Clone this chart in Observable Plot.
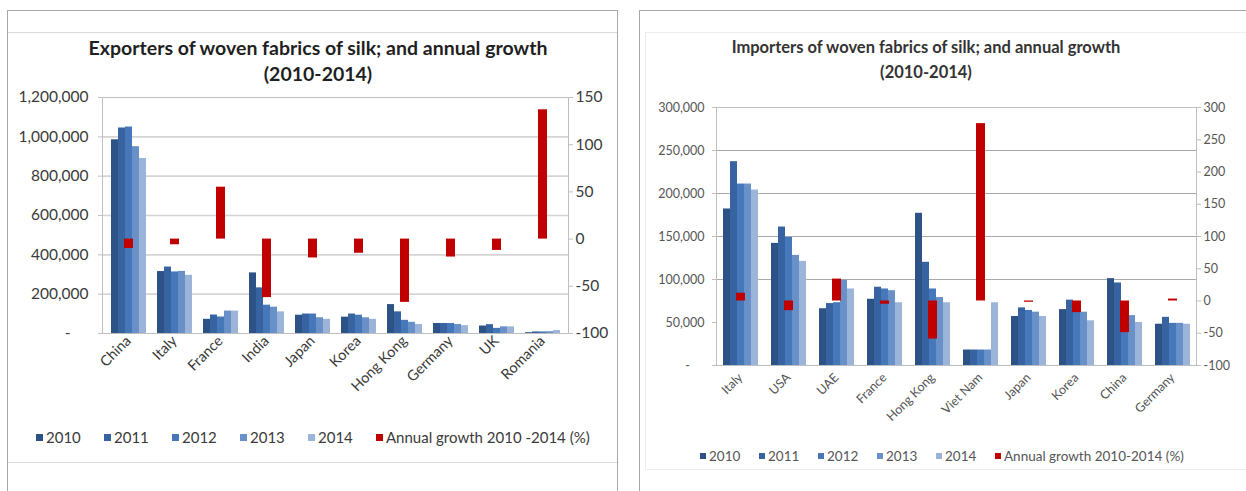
<!DOCTYPE html>
<html><head><meta charset="utf-8">
<script src="https://cdn.jsdelivr.net/npm/d3@7"></script>
<script src="https://cdn.jsdelivr.net/npm/@observablehq/plot@0.6"></script>
<style>
html,body{margin:0;padding:0;background:#fff;}
#root{position:relative;width:1246px;height:491px;overflow:hidden;font-family:Lato,"Liberation Sans",sans-serif;background:#fff;}
.box{position:absolute;box-sizing:border-box;}
.title{position:absolute;text-align:center;font-weight:bold;white-space:nowrap;transform:translate(-50%,-50%);}
.legend{position:absolute;display:flex;align-items:center;white-space:nowrap;transform:translateY(-50%);}
.legend .item{display:flex;align-items:center;}
.legend .sw{display:inline-block;margin-right:3px;}
.chart{position:absolute;}
.chart svg{position:absolute;left:0;top:0;background:transparent;}
</style></head><body><div id="root"></div>
<script>
// ---------- data ----------
const years = ["2010", "2011", "2012", "2013", "2014"];
const yearColors = ["#2c5286", "#3764a0", "#4677b8", "#6a90c8", "#9cb4da"];
const growthColor = "#c00000";

const expTitle = ["Exporters of woven fabrics of silk; and annual growth", "(2010-2014)"];
const expCountries = ["China", "Italy", "France", "India", "Japan", "Korea", "Hong Kong", "Germany", "UK", "Romania"];
const exp2010 = [985000, 315000, 72000, 308000, 93000, 83000, 147000, 51000, 38000, 4000];
const exp2011 = [1045000, 338000, 94000, 232000, 99000, 99000, 110000, 51000, 45000, 8000];
const exp2012 = [1050000, 313000, 84000, 144000, 99000, 93000, 67000, 51000, 26000, 8000];
const exp2013 = [950000, 316000, 114000, 134000, 80000, 80000, 57000, 46000, 34000, 9000];
const exp2014 = [890000, 296000, 114000, 110000, 72000, 72000, 46000, 40000, 34000, 15000];
const expGrowth = [-10, -6, 55, -62, -20, -15, -67, -19, -12, 137];
const expYTicks = [0, 200000, 400000, 600000, 800000, 1000000, 1200000];
const expGrowthTicks = [-100, -50, 0, 50, 100, 150];
const expGrowthLabel = "Annual growth 2010 -2014 (%)";

const impTitle = ["Importers of woven fabrics of silk; and annual growth", "(2010-2014)"];
const impCountries = ["Italy", "USA", "UAE", "France", "Hong Kong", "Viet Nam", "Japan", "Korea", "China", "Germany"];
const imp2010 = [182000, 142000, 66000, 77000, 177000, 18000, 57000, 65000, 101000, 48000];
const imp2011 = [237000, 161000, 72000, 91000, 120000, 18000, 67000, 76000, 96000, 56000];
const imp2012 = [211000, 149000, 73000, 89000, 89000, 18000, 64000, 72000, 72000, 49000];
const imp2013 = [211000, 128000, 99000, 87000, 79000, 18000, 62000, 62000, 58000, 49000];
const imp2014 = [204000, 121000, 89000, 73000, 73000, 73000, 57000, 52000, 50000, 48000];
const impGrowth = [12, -15, 34, -5, -59, 275, -2, -18, -49, 3];
const impYTicks = [0, 50000, 100000, 150000, 200000, 250000, 300000];
const impGridTicks = [100000, 150000, 200000, 250000];
const impGrowthTicks = [-100, -50, 0, 50, 100, 150, 200, 250, 300];
const impGrowthLabel = "Annual growth 2010-2014 (%)";

// ---------- helpers ----------
const root = document.getElementById("root");
function el(tag, cls, style, text) {
  const e = document.createElement(tag);
  if (cls) e.className = cls;
  Object.assign(e.style, style || {});
  if (text != null) e.textContent = text;
  return e;
}

function buildRows(countries, series) {
  const rows = [];
  countries.forEach((c, i) => series.forEach((s, j) => rows.push({country: c, year: years[j], value: s[i]})));
  return rows;
}

function chart(o) {
  const yMax = o.yTicks[o.yTicks.length - 1];
  const gMin = o.growthTicks[0], gMax = o.growthTicks[o.growthTicks.length - 1];
  const g2y = g => (g - gMin) / (gMax - gMin) * yMax;
  const y2g = v => Math.round(v / yMax * (gMax - gMin) + gMin);
  const common = {
    width: o.width, height: o.height,
    marginTop: o.mt, marginBottom: o.mb, marginLeft: o.ml, marginRight: o.mr,
    style: {fontFamily: "Lato, 'Liberation Sans', sans-serif", fontSize: o.tickFont + "px", color: o.textColor, background: "transparent", overflow: "visible"}
  };
  const base = Plot.plot({
    ...common,
    x: {type: "band", domain: o.countries, padding: 0},
    y: {domain: [0, yMax]},
    marks: [
      Plot.ruleY(o.gridTicks, {stroke: o.gridColor, strokeWidth: o.gridWidth}),
      Plot.frame({stroke: o.axisColor, strokeWidth: 1}),
      Plot.axisY({anchor: "left", ticks: o.yTicks, tickSize: 4, tickPadding: o.tickPadL, stroke: o.axisColor,
        tickFormat: v => v === 0 ? "-\u2007\u2007" : d3.format(",")(v), label: null, fill: o.textColor}),
      Plot.axisY({anchor: "right", ticks: o.growthTicks.map(g2y), tickSize: 4, tickPadding: 3, stroke: o.axisColor,
        tickFormat: v => String(y2g(v)), label: null, fill: o.textColor}),
      Plot.axisX({tickRotate: -45, tickSize: 0, tickPadding: o.xPad, label: null, fontSize: o.xFont, fill: o.textColor})
    ]
  });
  const rows = buildRows(o.countries, o.series);
  const grows = o.countries.map((c, i) => ({country: c, growth: o.growth[i]}));
  const bars = Plot.plot({
    ...common,
    fx: {domain: o.countries, padding: 0, axis: null, label: null},
    x: {domain: years, paddingInner: 0, paddingOuter: o.po, axis: null},
    y: {domain: [0, yMax], axis: null},
    color: {domain: years, range: yearColors},
    marks: [
      Plot.barY(rows, {fx: "country", x: "year", y: "value", fill: "year"}),
      Plot.barY(grows, {fx: "country", x: () => "2012", y1: () => g2y(0), y2: d => g2y(d.growth),
        fill: growthColor, insetLeft: -1, insetRight: -1})
    ]
  });
  const wrap = el("div", "chart", {left: o.left + "px", top: o.top + "px", width: o.width + "px", height: o.height + "px"});
  wrap.appendChild(base);
  wrap.appendChild(bars);
  root.appendChild(wrap);
}

function legend(o) {
  const lg = el("div", "legend", {left: o.left + "px", top: o.top + "px", fontSize: o.font + "px", color: o.color});
  years.forEach((y, i) => {
    const it = el("div", "item", {width: o.step + "px"});
    it.appendChild(el("span", "sw", {width: o.sw + "px", height: o.sw + "px", background: yearColors[i]}));
    it.appendChild(el("span", null, {}, y));
    lg.appendChild(it);
  });
  const it = el("div", "item", {});
  it.appendChild(el("span", "sw", {width: o.sw + "px", height: o.sw + "px", background: growthColor}));
  it.appendChild(el("span", null, {}, o.label));
  lg.appendChild(it);
  root.appendChild(lg);
}

// ---------- left panel frame ----------
root.appendChild(el("div", "box", {left: "7px", top: "10px", width: "611px", height: "500px", border: "1.5px solid #a8a8a8"}));
root.appendChild(el("div", "box", {left: "8px", top: "32px", width: "609px", height: "1px", background: "#d9d9d9"}));
root.appendChild(el("div", "box", {left: "8px", top: "462px", width: "609px", height: "1px", background: "#d9d9d9"}));
// right panel frame
root.appendChild(el("div", "box", {left: "639px", top: "10px", width: "640px", height: "500px", border: "1.5px solid #a8a8a8"}));
root.appendChild(el("div", "box", {left: "645px", top: "32px", width: "620px", height: "438px", border: "1px solid #ececec"}));

// titles
expTitle.forEach((t, i) => root.appendChild(el("div", "title", {left: "318px", top: (47 + i * 26) + "px", fontSize: "19.5px", color: "#1f1f1f"}, t)));
impTitle.forEach((t, i) => root.appendChild(el("div", "title", {left: "926px", top: (47 + i * 25) + "px", fontSize: "16.5px", color: "#333"}, t)));

chart({
  left: 0, top: 85, width: 623, height: 340, mt: 12, mb: 92, ml: 102, mr: 55,
  countries: expCountries, series: [exp2010, exp2011, exp2012, exp2013, exp2014], growth: expGrowth,
  yTicks: expYTicks, gridTicks: expYTicks.slice(1, -1), growthTicks: expGrowthTicks,
  gridColor: "#d4d4d4", gridWidth: 1.6, axisColor: "#bfbfbf", textColor: "#3a3a3a",
  tickFont: 15.5, xFont: 14.5, xPad: 5, tickPadL: 10, po: 0.735
});
chart({
  left: 623, top: 95, width: 623, height: 360, mt: 12, mb: 90, ml: 93, mr: 50,
  countries: impCountries, series: [imp2010, imp2011, imp2012, imp2013, imp2014], growth: impGrowth,
  yTicks: impYTicks, gridTicks: impGridTicks, growthTicks: impGrowthTicks,
  gridColor: "#a9a9a9", gridWidth: 1, axisColor: "#bdbdbd", textColor: "#555",
  tickFont: 12.5, xFont: 12.5, xPad: 10, tickPadL: 8, po: 0.77
});

legend({left: 36, top: 437, font: 15, color: "#3a3a3a", sw: 7, step: 68, label: expGrowthLabel});
legend({left: 700, top: 456, font: 13.5, color: "#555", sw: 6, step: 59, label: impGrowthLabel});
</script></body></html>
